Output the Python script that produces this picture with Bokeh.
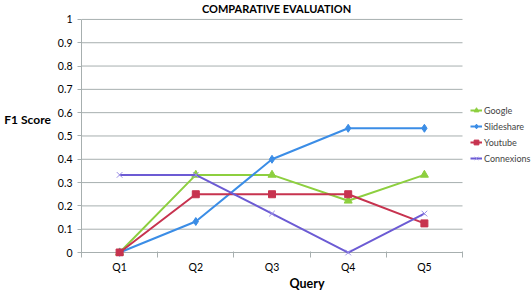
from bokeh.plotting import figure
from bokeh.models import Range1d, FixedTicker, Label, Legend, LegendItem
from bokeh.embed import file_html
from bokeh.resources import INLINE

categories = ["Q1", "Q2", "Q3", "Q4", "Q5"]
google = [0.0, 0.333, 0.333, 0.222, 0.333]
slideshare = [0.0, 0.133, 0.4, 0.533, 0.533]
youtube = [0.0, 0.25, 0.25, 0.25, 0.125]
connexions = [0.333, 0.333, 0.167, 0.0, 0.167]
y_ticks = [0, 0.1, 0.2, 0.3, 0.4, 0.5, 0.6, 0.7, 0.8, 0.9, 1.0]
y_labels = ["0", "0.1", "0.2", "0.3", "0.4", "0.5", "0.6", "0.7", "0.8", "0.9", "1"]

FONT = "Lato"
GRID = "#A7AFAF"

n = len(categories)
xs = [i + 0.5 for i in range(n)]

# plot geometry (pixels): 1 y-unit = 234 px, 1 category = 76.2 px
W, H = 532, 293
LEFT, BOTTOM = 81, 36
PX_Y, PX_X = 234.0, 76.2
BELOW0 = 4
frame_w = W - LEFT
frame_h = H - BOTTOM
y0 = -BELOW0 / PX_Y
y1 = y0 + frame_h / PX_Y
x1 = frame_w / PX_X

p = figure(width=W, height=H, output_backend="svg", toolbar_location=None,
           x_range=Range1d(0, x1), y_range=Range1d(y0, y1),
           min_border_left=LEFT, min_border_right=0, min_border_top=0, min_border_bottom=BOTTOM)
p.outline_line_color = None
p.background_fill_color = "white"
p.border_fill_color = "white"

# grid (horizontal lines only across the plot area)
p.xgrid.visible = False
p.ygrid.visible = False
p.segment(x0=[0] * len(y_ticks), x1=[n] * len(y_ticks), y0=y_ticks, y1=y_ticks,
          line_color=GRID, line_width=1)

# y axis
p.yaxis.ticker = FixedTicker(ticks=y_ticks)
p.yaxis.major_label_overrides = {t: l for t, l in zip(y_ticks, y_labels)}
p.yaxis.bounds = (0, 1)
p.yaxis.axis_line_color = GRID
p.yaxis.major_tick_line_color = GRID
p.yaxis.major_tick_in = 0
p.yaxis.major_tick_out = 4
p.yaxis.minor_tick_line_color = None
p.yaxis.major_label_standoff = 5
p.yaxis.major_label_text_font = FONT
p.yaxis.major_label_text_font_size = "10.5px"
p.yaxis.major_label_text_color = "black"
p.yaxis.axis_label = "F1 Score\n "
p.yaxis.axis_label_orientation = "horizontal"
p.yaxis.axis_label_standoff = 4
p.yaxis.axis_label_text_font = FONT
p.yaxis.axis_label_text_font_style = "bold"
p.yaxis.axis_label_text_font_size = "12px"
p.yaxis.axis_label_text_color = "black"
p.yaxis.axis_label_text_align = "left"

# x axis
p.xaxis.ticker = FixedTicker(ticks=xs, minor_ticks=list(range(n + 1)))
p.xaxis.major_label_overrides = {x: c for x, c in zip(xs, categories)}
p.xaxis.axis_line_color = None
p.xaxis.major_tick_line_color = None
p.xaxis.major_tick_in = 0
p.xaxis.major_tick_out = 0
p.xaxis.minor_tick_line_color = GRID
p.xaxis.minor_tick_in = BELOW0 + 1
p.xaxis.minor_tick_out = 1
p.xaxis.major_label_standoff = 3
p.xaxis.major_label_text_font = FONT
p.xaxis.major_label_text_font_size = "10.5px"
p.xaxis.major_label_text_color = "black"
p.xaxis.axis_label = "Query"
p.xaxis.axis_label_standoff = 0
p.xaxis.axis_label_text_font = FONT
p.xaxis.axis_label_text_font_style = "bold"
p.xaxis.axis_label_text_font_size = "12.5px"
p.xaxis.axis_label_text_color = "black"

series = [
    ("Google", google, "#8DCF3F", "triangle", 8),
    ("Slideshare", slideshare, "#3B8DE6", "diamond", 8),
    ("Youtube", youtube, "#C7334F", "square", 7),
    ("Connexions", connexions, "#6C5BD4", "x", 8),
]
items = []
for name, ys, col, mk, sz in series:
    ln = p.line(xs, ys, line_color=col, line_width=2)
    if mk == "x":
        sc = p.scatter(xs, ys, marker=mk, size=sz, line_color="#9A8EE6", line_width=1)
    else:
        sc = p.scatter(xs, ys, marker=mk, size=sz, fill_color=col, line_color=col)
    items.append(LegendItem(label=name, renderers=[ln, sc]))

legend = Legend(items=items, location=(389, 92), orientation="vertical",
                glyph_width=12, glyph_height=12, label_height=12, spacing=4,
                label_standoff=2, padding=2, margin=0,
                label_text_font=FONT, label_text_font_size="9px",
                border_line_color=None, background_fill_alpha=0)
p.add_layout(legend, "center")

p.add_layout(Label(x=2.56, y=1.049, text="COMPARATIVE EVALUATION", text_align="center",
                   text_baseline="middle", text_font=FONT, text_font_style="bold",
                   text_font_size="11px", text_color="black"))

open("out.html", "w").write(file_html(p, INLINE))
